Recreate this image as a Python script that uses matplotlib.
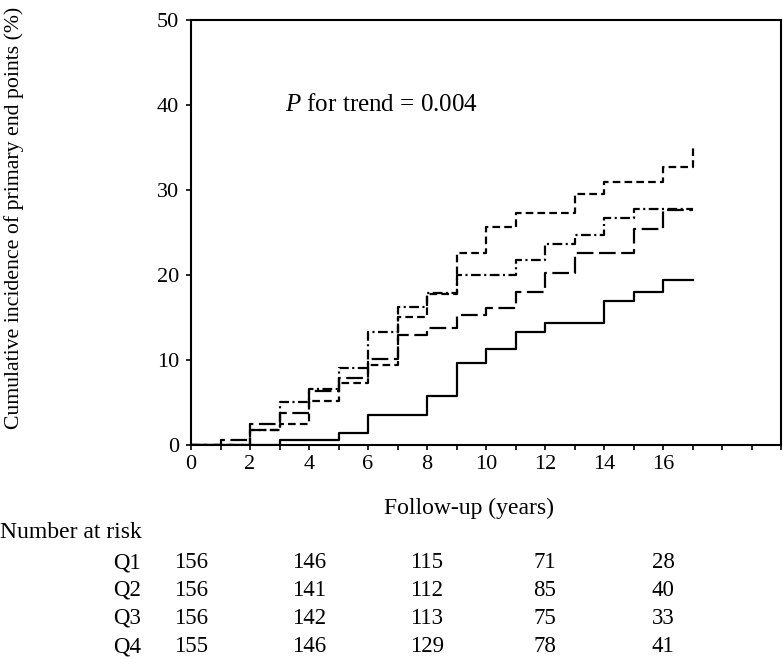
import matplotlib
matplotlib.use('Agg')
import matplotlib.pyplot as plt
import matplotlib.transforms as mtransforms

plt.rcParams['font.family'] = ['Liberation Serif', 'DejaVu Serif']
plt.rcParams['lines.scale_dashes'] = False
plt.rcParams['mathtext.fontset'] = 'custom'
plt.rcParams['mathtext.rm'] = 'Liberation Serif'
plt.rcParams['mathtext.it'] = 'Liberation Serif:italic'

# ---- data ----
years = list(range(0, 18))
q1 = [0, 0, 0, 0.6, 0.6, 1.4, 3.5, 3.5, 5.8, 9.6, 11.3, 13.3, 14.3, 14.3, 16.9, 18.0, 19.4, 19.4]
q2 = [0, 0.6, 2.5, 3.8, 6.3, 7.9, 10.1, 12.9, 13.8, 15.3, 16.1, 18.0, 20.2, 22.6, 22.6, 25.4, 27.6, 27.6]
q3 = [0, 0, 1.8, 5.1, 6.6, 9.1, 13.3, 16.2, 17.9, 20.0, 20.0, 21.8, 23.6, 24.7, 26.7, 27.8, 27.8, 27.8]
q4 = [0, 0, 1.8, 2.5, 5.2, 7.3, 9.4, 15.1, 17.8, 22.6, 25.6, 27.3, 27.3, 29.5, 30.9, 30.9, 32.7, 35.1]

x_ticks = list(range(0, 21))
x_ticklabels = ['0', '', '2', '', '4', '', '6', '', '8', '', '10', '', '12', '', '14', '', '16', '', '', '', '']
y_ticks = [0, 10, 20, 30, 40, 50]

risk_years = [0, 4, 8, 12, 16]
risk_groups = ['Q1', 'Q2', 'Q3', 'Q4']
risk_q1 = [156, 146, 115, 71, 28]
risk_q2 = [156, 141, 112, 85, 40]
risk_q3 = [156, 142, 113, 75, 33]
risk_q4 = [155, 146, 129, 78, 41]

# ---- figure ----
W, H = 783, 659
fig = plt.figure(figsize=(W / 100, H / 100), dpi=100)
ax = fig.add_axes([191 / W, 1 - 445 / H, (781 - 191) / W, (445 - 20) / H])

lw = 1.6
ax.plot(years, q1, drawstyle='steps-post', color='black', lw=lw, linestyle='-')
ax.plot(years, q2, drawstyle='steps-post', color='black', lw=lw, dashes=(12, 4))
ax.plot(years, q3, drawstyle='steps-post', color='black', lw=lw, dashes=(7, 2.5, 1.5, 2.5))
ax.plot(years, q4, drawstyle='steps-post', color='black', lw=lw, dashes=(5.5, 3))

ax.set_xlim(0, 20)
ax.set_ylim(0, 50)
ax.set_xticks(x_ticks)
ax.set_xticklabels(x_ticklabels)
ax.set_yticks(y_ticks)
ax.tick_params(axis='both', direction='out', length=3.5, width=1.2, labelsize=16, colors='black')
ax.tick_params(axis='x', pad=4)
ax.tick_params(axis='y', pad=5)
for s in ax.spines.values():
    s.set_linewidth(1.5)

ax.text(3.2, 40, r'$P$ for trend = 0.004', fontsize=18, va='center', ha='left')

fig.text(14 / W, 1 - 218 / H, 'Cumulative incidence of primary end points (%)',
         rotation=90, ha='center', va='center', fontsize=15.7)
fig.text(469 / W, 1 - 508 / H, 'Follow-up (years)', ha='center', va='center', fontsize=17)
fig.text(0, 1 - 533 / H, 'Number at risk', ha='left', va='center', fontsize=17)

trans = mtransforms.blended_transform_factory(ax.transData, fig.transFigure)
row_y = [563, 590, 618, 647]
for grp, vals, ry in zip(risk_groups, [risk_q1, risk_q2, risk_q3, risk_q4], row_y):
    fig.text(127 / W, 1 - ry / H, grp, ha='center', va='center', fontsize=16.5)
    for yr, v in zip(risk_years, vals):
        ax.text(yr, 1 - ry / H, str(v), transform=trans, ha='center', va='center',
                fontsize=16.5, clip_on=False)

fig.savefig('out.png', dpi=100)
